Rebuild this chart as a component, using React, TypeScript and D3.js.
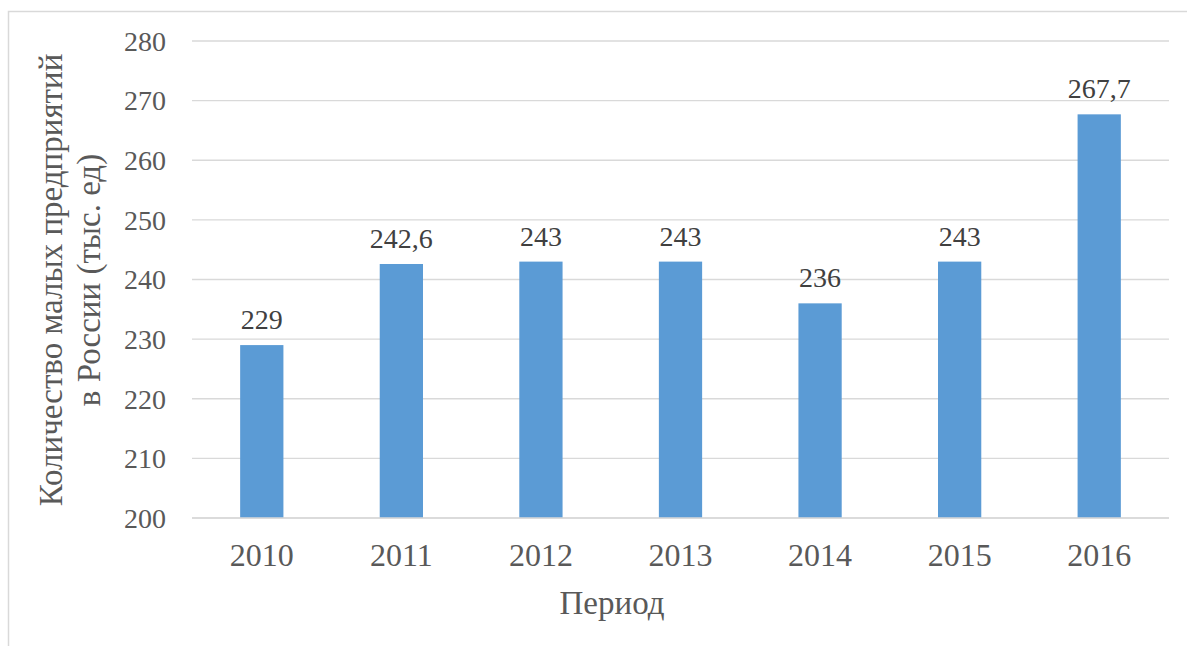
import * as d3 from "d3";

const years = ["2010", "2011", "2012", "2013", "2014", "2015", "2016"];
const values = [229, 242.6, 243, 243, 236, 243, 267.7];
const yTicks = [200, 210, 220, 230, 240, 250, 260, 270, 280];

const WIDTH = 1187;
const HEIGHT = 646;
const PLOT = { left: 192, right: 1169, top: 41, bottom: 518 };
const FONT = '"Liberation Serif", "DejaVu Serif", serif';
const FS = 28; // tick and value labels
const FS_CAT = 32; // category labels
const FS_TITLE = 33; // axis titles

const fmt = (v: number) => String(v).replace(".", ",");

export default function App() {
  const x = d3
    .scaleBand<string>()
    .domain(years)
    .range([PLOT.left, PLOT.right])
    .paddingInner(0.69)
    .paddingOuter(0.345);

  const y = d3.scaleLinear().domain([200, 280]).range([PLOT.bottom, PLOT.top]);

  return (
    <svg
      width={WIDTH}
      height={HEIGHT}
      style={{ position: "absolute", left: 0, top: 0, background: "#fff", fontFamily: FONT }}
    >
      {/* outer frame, cropped at right and bottom */}
      <rect x={8.5} y={11.5} width={1200} height={700} fill="none" stroke="#d9d9d9" strokeWidth={1.5} />

      {/* grid + y tick labels */}
      {yTicks.map((t) => (
        <g key={t}>
          <line x1={PLOT.left} x2={PLOT.right} y1={y(t)} y2={y(t)} stroke="#d9d9d9" strokeWidth={1.3} />
          <text x={166} y={y(t)} dy="0.35em" textAnchor="end" fontSize={FS} fill="#595959">
            {t}
          </text>
        </g>
      ))}

      {/* bars */}
      {years.map((yr, i) => {
        const bx = x(yr) ?? 0;
        return (
          <g key={yr}>
            <rect x={bx} y={y(values[i])} width={x.bandwidth()} height={PLOT.bottom - y(values[i])} fill="#5b9bd5" />
            <text
              x={bx + x.bandwidth() / 2}
              y={y(values[i]) - 16}
              textAnchor="middle"
              fontSize={FS}
              fill="#404040"
            >
              {fmt(values[i])}
            </text>
            <text x={bx + x.bandwidth() / 2} y={566} textAnchor="middle" fontSize={FS_CAT} fill="#595959">
              {yr}
            </text>
          </g>
        );
      })}

      {/* axis line */}
      <line x1={PLOT.left} x2={PLOT.right} y1={PLOT.bottom} y2={PLOT.bottom} stroke="#d9d9d9" strokeWidth={1.5} />

      {/* axis titles */}
      <text x={612} y={614} textAnchor="middle" fontSize={FS_TITLE} fill="#595959">
        Период
      </text>
      <text transform="translate(62,280) rotate(-90)" textAnchor="middle" fontSize={FS_TITLE} fill="#595959">
        Количество малых предприятий
      </text>
      <text transform="translate(100,280) rotate(-90)" textAnchor="middle" fontSize={FS_TITLE} fill="#595959">
        в России (тыс. ед)
      </text>
    </svg>
  );
}
